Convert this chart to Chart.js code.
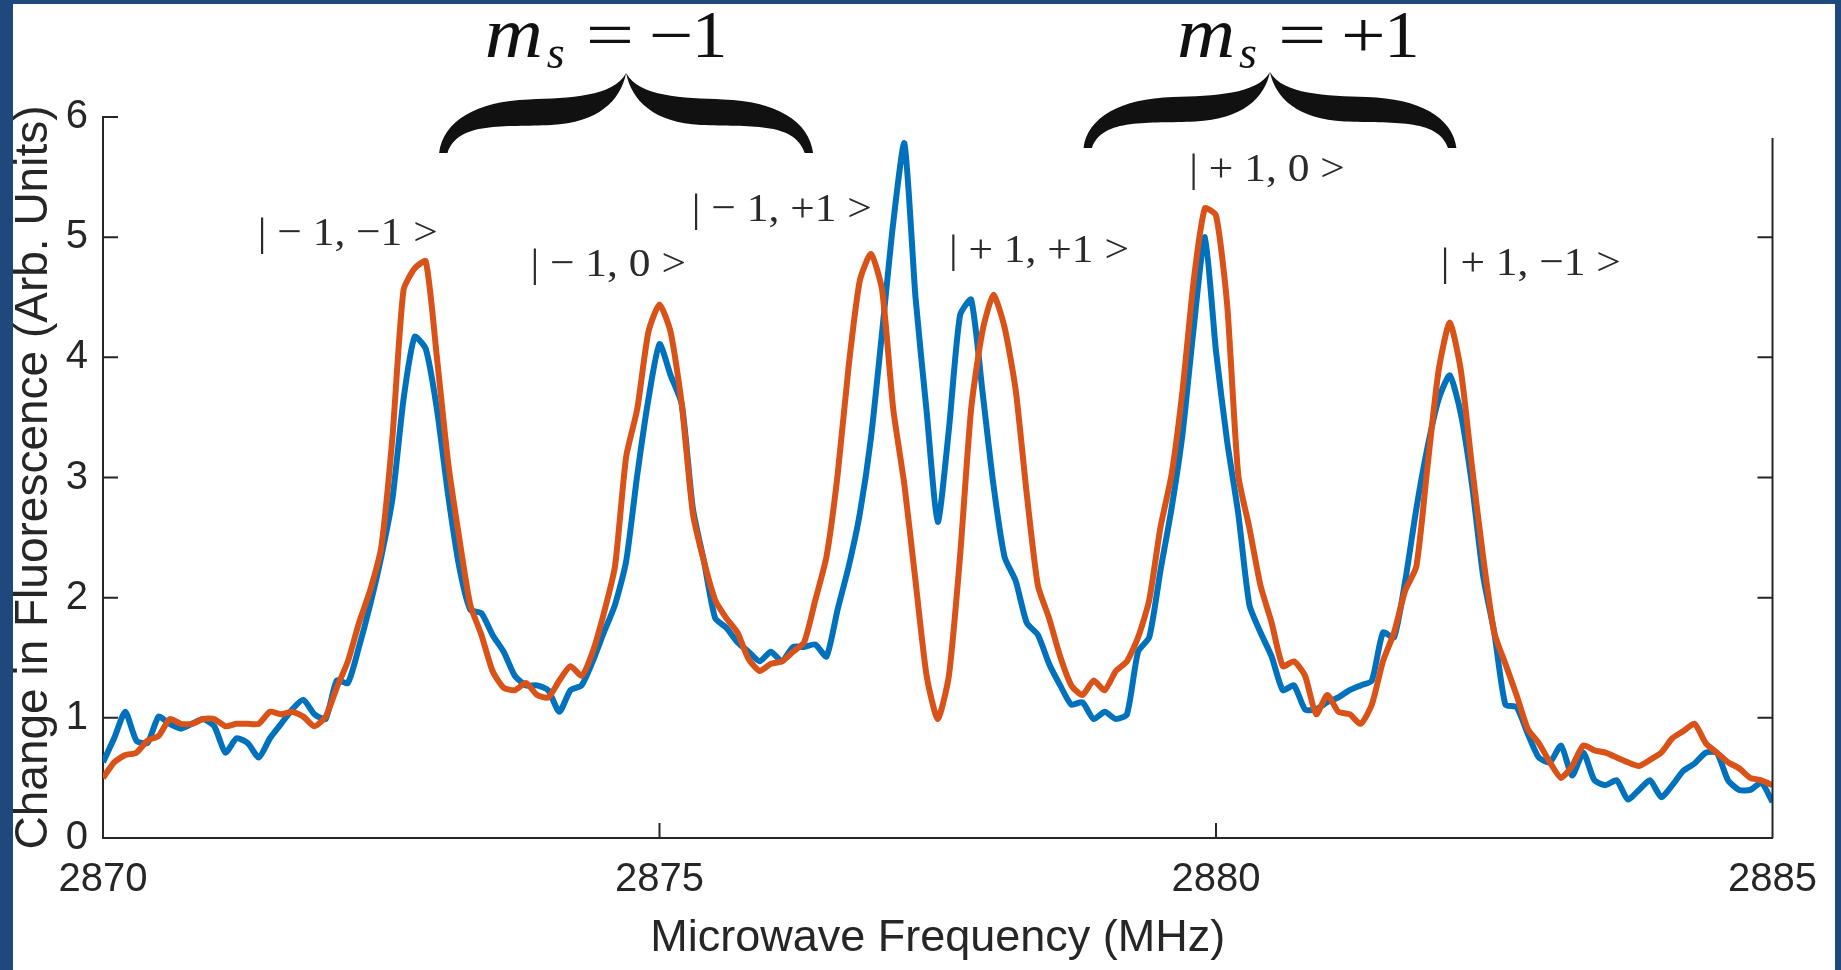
<!DOCTYPE html>
<html>
<head>
<meta charset="utf-8">
<script src="https://cdn.jsdelivr.net/npm/chart.js@4.4.1/dist/chart.umd.min.js"></script>
<style>
html, body { margin: 0; padding: 0; width: 1841px; height: 970px; overflow: hidden; background: #1f497d; }
#frame { position: absolute; left: 13px; top: 4px; width: 1822px; height: 966px; background: #fff; }
</style>
</head>
<body>
<div id="frame"><canvas id="chart" width="1822" height="966"></canvas></div>
<script>
// frequency axis (MHz)
var freqMHz = [
    2870.0, 2870.1, 2870.2, 2870.3, 2870.4, 2870.5, 2870.6, 2870.7, 2870.8, 2870.9,
    2871.0, 2871.1, 2871.2, 2871.3, 2871.4, 2871.5, 2871.6, 2871.7, 2871.8, 2871.9,
    2872.0, 2872.1, 2872.2, 2872.3, 2872.4, 2872.5, 2872.6, 2872.7, 2872.8, 2872.9,
    2873.0, 2873.1, 2873.2, 2873.3, 2873.4, 2873.5, 2873.6, 2873.7, 2873.8, 2873.9,
    2874.0, 2874.1, 2874.2, 2874.3, 2874.4, 2874.5, 2874.6, 2874.7, 2874.8, 2874.9,
    2875.0, 2875.1, 2875.2, 2875.3, 2875.4, 2875.5, 2875.6, 2875.7, 2875.8, 2875.9,
    2876.0, 2876.1, 2876.2, 2876.3, 2876.4, 2876.5, 2876.6, 2876.7, 2876.8, 2876.9,
    2877.0, 2877.1, 2877.2, 2877.3, 2877.4, 2877.5, 2877.6, 2877.7, 2877.8, 2877.9,
    2878.0, 2878.1, 2878.2, 2878.3, 2878.4, 2878.5, 2878.6, 2878.7, 2878.8, 2878.9,
    2879.0, 2879.1, 2879.2, 2879.3, 2879.4, 2879.5, 2879.6, 2879.7, 2879.8, 2879.9,
    2880.0, 2880.1, 2880.2, 2880.3, 2880.4, 2880.5, 2880.6, 2880.7, 2880.8, 2880.9,
    2881.0, 2881.1, 2881.2, 2881.3, 2881.4, 2881.5, 2881.6, 2881.7, 2881.8, 2881.9,
    2882.0, 2882.1, 2882.2, 2882.3, 2882.4, 2882.5, 2882.6, 2882.7, 2882.8, 2882.9,
    2883.0, 2883.1, 2883.2, 2883.3, 2883.4, 2883.5, 2883.6, 2883.7, 2883.8, 2883.9,
    2884.0, 2884.1, 2884.2, 2884.3, 2884.4, 2884.5, 2884.6, 2884.7, 2884.8, 2884.9,
    2885.0
];

// blue trace
var fluorBlue = [
    0.63, 0.83, 1.05, 0.81, 0.79, 1.01, 0.95, 0.91, 0.95, 0.99,
    0.93, 0.71, 0.83, 0.79, 0.67, 0.83, 0.95, 1.07, 1.15, 1.03,
    0.99, 1.31, 1.29, 1.59, 1.94, 2.34, 2.82, 3.65, 4.17, 4.07,
    3.57, 2.86, 2.26, 1.90, 1.87, 1.69, 1.55, 1.35, 1.27, 1.27,
    1.23, 1.05, 1.23, 1.27, 1.47, 1.71, 1.94, 2.30, 3.02, 3.65,
    4.11, 3.85, 3.61, 2.74, 2.30, 1.83, 1.75, 1.63, 1.55, 1.47,
    1.55, 1.47, 1.59, 1.59, 1.61, 1.51, 1.90, 2.26, 2.70, 3.33,
    4.21, 5.12, 5.78, 4.50, 3.55, 2.63, 3.40, 4.35, 4.48, 3.73,
    2.94, 2.34, 2.14, 1.79, 1.69, 1.45, 1.27, 1.11, 1.13, 0.99,
    1.05, 0.99, 1.03, 1.55, 1.67, 2.22, 2.74, 3.37, 4.25, 5.00,
    4.05, 3.30, 2.70, 1.94, 1.71, 1.51, 1.23, 1.27, 1.07, 1.07,
    1.13, 1.17, 1.23, 1.27, 1.31, 1.71, 1.67, 2.14, 2.74, 3.25,
    3.65, 3.85, 3.53, 2.94, 2.18, 1.71, 1.11, 1.09, 0.87, 0.67,
    0.63, 0.77, 0.52, 0.71, 0.48, 0.44, 0.48, 0.32, 0.40, 0.48,
    0.34, 0.44, 0.56, 0.62, 0.71, 0.71, 0.48, 0.40, 0.40, 0.46,
    0.30
];

// orange trace
var fluorOrange = [
    0.50, 0.63, 0.69, 0.71, 0.81, 0.85, 0.99, 0.95, 0.95, 0.99,
    0.99, 0.93, 0.95, 0.95, 0.95, 1.05, 1.03, 1.05, 1.01, 0.93,
    1.01, 1.25, 1.47, 1.79, 2.06, 2.42, 3.33, 4.56, 4.74, 4.80,
    4.00, 3.13, 2.50, 1.94, 1.69, 1.39, 1.25, 1.23, 1.29, 1.19,
    1.17, 1.31, 1.43, 1.35, 1.55, 1.87, 2.26, 3.17, 3.57, 4.21,
    4.44, 4.21, 3.61, 2.70, 2.30, 1.98, 1.83, 1.71, 1.49, 1.39,
    1.45, 1.47, 1.55, 1.63, 1.98, 2.34, 3.02, 3.93, 4.64, 4.86,
    4.56, 3.57, 2.94, 2.14, 1.35, 0.99, 1.35, 2.34, 3.57, 4.21,
    4.52, 4.25, 3.73, 2.86, 2.10, 1.83, 1.51, 1.27, 1.19, 1.31,
    1.23, 1.39, 1.47, 1.67, 1.98, 2.58, 3.02, 3.73, 4.64, 5.24,
    5.18, 4.44, 3.02, 2.58, 2.10, 1.79, 1.43, 1.47, 1.35, 1.03,
    1.19, 1.05, 1.03, 0.95, 1.11, 1.47, 1.71, 2.06, 2.26, 3.09,
    3.89, 4.29, 3.89, 3.09, 2.34, 1.71, 1.45, 1.19, 0.91, 0.79,
    0.63, 0.50, 0.60, 0.77, 0.73, 0.71, 0.67, 0.63, 0.60, 0.65,
    0.71, 0.83, 0.89, 0.95, 0.79, 0.71, 0.63, 0.58, 0.50, 0.48,
    0.44
];

var xTickValues = [2870, 2875, 2880, 2885];
var yTickValues = [0, 1, 2, 3, 4, 5, 6];

// peak labels (anchored at left end / baseline, in data units)
var stateLabels = ["| \u2212 1, \u22121 >", "| \u2212 1, 0 >", "| \u2212 1, +1 >", "| + 1, +1 >", "| + 1, 0 >", "| + 1, \u22121 >"];
var stateX = [2871.39, 2873.84, 2875.29, 2877.60, 2879.76, 2882.02];
var stateY = [4.935, 4.677, 5.134, 4.793, 5.467, 4.685];

// m_s groups with braces
var groupSigns = ["\u2212", "+"];
var groupX = [2873.43, 2879.65];
var groupY = [6.50, 6.50];
var braceFrom = [2873.02, 2878.81];
var braceTo = [2876.38, 2882.16];
var braceTop = [6.366, 6.374];
var braceBottom = [5.70, 5.742];

var axisColor = "#262626";
var serif = "'Liberation Serif', 'Times New Roman', serif";
var tickFont = { family: "'Liberation Sans', Arial, sans-serif", size: 40 };

function toPoints(ys) {
    var pts = [];
    for (let i = 0; i < freqMHz.length; i++) {
        pts.push({ x: freqMHz[i], y: ys[i] });
    }
    return pts;
}

// one half of a horizontal curly brace, u: 0 = outer end, 1 = tip
function braceHalf(ctx, px, py) {
    ctx.moveTo(px(0), py(1));
    ctx.bezierCurveTo(px(0.02), py(0.6), px(0.2), py(0.35), px(0.48), py(0.33));
    ctx.bezierCurveTo(px(0.7), py(0.31), px(0.93), py(0.3), px(1), py(0));
    ctx.bezierCurveTo(px(0.97), py(0.35), px(0.85), py(0.62), px(0.6), py(0.65));
    ctx.bezierCurveTo(px(0.35), py(0.68), px(0.1), py(0.6), px(0.045), py(1));
    ctx.closePath();
}

function drawBrace(ctx, x0, x1, y0, y1) {
    var half = (x1 - x0) / 2;
    var py = function(v) { return y0 + v * (y1 - y0); };
    ctx.beginPath();
    braceHalf(ctx, function(u) { return x0 + u * half; }, py);
    braceHalf(ctx, function(u) { return x1 - u * half; }, py);
    ctx.fill();
}

// text stretched sideways (LaTeX glyphs are wider than Times)
function wideText(ctx, text, font, x, y, sx) {
    ctx.save();
    ctx.translate(x, y);
    ctx.scale(sx, 1);
    ctx.font = font;
    ctx.fillText(text, 0, 0);
    ctx.restore();
}

var matlabAxes = {
    id: "matlabAxes",
    afterDraw: function(chart) {
        const ctx = chart.ctx;
        const xs = chart.scales.x;
        const ys = chart.scales.y;
        const area = chart.chartArea;
        const tick = 15;
        ctx.save();

        // inward ticks + right axis (top part hidden by the brace overlay)
        ctx.strokeStyle = axisColor;
        ctx.lineWidth = 2;
        const rightTop = area.top + 21;
        ctx.beginPath();
        ctx.moveTo(area.right, rightTop);
        ctx.lineTo(area.right, area.bottom);
        xTickValues.forEach(function(v) {
            const px = xs.getPixelForValue(v);
            ctx.moveTo(px, area.bottom);
            ctx.lineTo(px, area.bottom - tick);
        });
        yTickValues.forEach(function(v) {
            const py = ys.getPixelForValue(v);
            if (v > 0) {
                ctx.moveTo(area.left, py);
                ctx.lineTo(area.left + tick, py);
            }
            if (v > 0 && py > rightTop) {
                ctx.moveTo(area.right, py);
                ctx.lineTo(area.right - tick, py);
            }
        });
        ctx.stroke();

        // state labels
        ctx.fillStyle = "#2a2a2a";
        ctx.textAlign = "left";
        ctx.textBaseline = "alphabetic";
        stateLabels.forEach(function(t, i) {
            wideText(ctx, t, "41px " + serif, xs.getPixelForValue(stateX[i]), ys.getPixelForValue(stateY[i]), 1.06);
        });

        // m_s = -1 / +1
        ctx.fillStyle = "#111";
        groupSigns.forEach(function(sign, i) {
            const x = xs.getPixelForValue(groupX[i]);
            const y = ys.getPixelForValue(groupY[i]);
            wideText(ctx, "m", "italic 72px " + serif, x, y, 1.12);
            wideText(ctx, "s", "italic 46px " + serif, x + 62, y + 11, 1.0);
            wideText(ctx, "=", "66px " + serif, x + 101, y, 1.3);
            wideText(ctx, sign, "66px " + serif, x + 164, y, 1.2);
            wideText(ctx, "1", "68px " + serif, x + 207, y, 1.05);
        });

        // braces
        for (let i = 0; i < braceFrom.length; i++) {
            drawBrace(ctx,
                xs.getPixelForValue(braceFrom[i]), xs.getPixelForValue(braceTo[i]),
                ys.getPixelForValue(braceTop[i]), ys.getPixelForValue(braceBottom[i]));
        }
        ctx.restore();
    }
};

const ctx = document.getElementById("chart").getContext("2d");
const myChart = new Chart(ctx, {
    type: "line",
    data: {
        datasets: [{
                label: "blue",
                data: toPoints(fluorBlue),
                borderColor: "#0072BD",
                backgroundColor: "#0072BD",
                borderWidth: 6,
                pointRadius: 0,
                tension: 0.2,
                order: 1,
            },
            {
                label: "orange",
                data: toPoints(fluorOrange),
                borderColor: "#D95319",
                backgroundColor: "#D95319",
                borderWidth: 6,
                pointRadius: 0,
                tension: 0.2,
                order: 0,
            },
        ],
    },
    options: {
        responsive: false,
        animation: false,
        devicePixelRatio: 1,
        layout: { padding: { top: 113, right: 62, left: 0, bottom: 0 } },
        plugins: {
            legend: { display: false },
            tooltip: { enabled: false },
        },
        scales: {
            x: {
                type: "linear",
                min: 2870,
                max: 2885,
                afterFit: function(s) { s.height = 132; },
                afterBuildTicks: function(s) { s.ticks = xTickValues.map(function(v) { return { value: v }; }); },
                grid: { display: true, drawOnChartArea: false, drawTicks: false },
                border: { display: true, color: axisColor, width: 2 },
                ticks: {
                    color: axisColor,
                    font: tickFont,
                    padding: 18,
                    maxRotation: 0,
                    callback: function(v) { return String(v); },
                },
                title: {
                    display: true,
                    text: "Microwave Frequency (MHz)",
                    color: axisColor,
                    font: { family: "'Liberation Sans', Arial, sans-serif", size: 45, lineHeight: 1 },
                    padding: { top: 0, bottom: 9 },
                },
            },
            y: {
                type: "linear",
                min: 0,
                max: 6,
                afterFit: function(s) { s.width = 90; },
                afterBuildTicks: function(s) { s.ticks = yTickValues.map(function(v) { return { value: v }; }); },
                grid: { display: true, drawOnChartArea: false, drawTicks: false },
                border: { display: true, color: axisColor, width: 2 },
                ticks: {
                    color: axisColor,
                    font: tickFont,
                    padding: 15,
                    callback: function(v) { return String(v); },
                },
                title: {
                    display: true,
                    text: "Change in Fluorescence (Arb. Units)",
                    color: axisColor,
                    font: { family: "'Liberation Sans', Arial, sans-serif", size: 46, lineHeight: 1 },
                    padding: { top: -2, bottom: 0 },
                },
            },
        },
    },
    plugins: [matlabAxes],
});
</script>
</body>
</html>
